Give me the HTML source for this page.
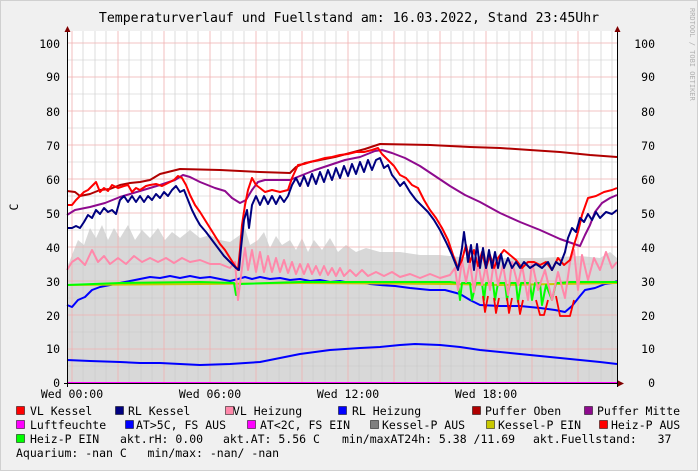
<!DOCTYPE html>
<html><head><meta charset="utf-8"><style>
body{margin:0;background:#f0f0f0;}
svg{display:block;font-family:"DejaVu Sans Mono","Liberation Mono",monospace;}
</style></head><body>
<svg width="698" height="471" viewBox="0 0 698 471" xmlns="http://www.w3.org/2000/svg">
<rect x="0" y="0" width="698" height="471" fill="#f0f0f0"/>
<rect x="0.5" y="0.5" width="697" height="470" fill="none" stroke="#d0d0d0"/>
<text x="349" y="22" font-size="13.2" text-anchor="middle" fill="#000">Temperaturverlauf und Fuellstand am: 16.03.2022, Stand 23:45Uhr</text>
<text transform="translate(690,8) rotate(90)" font-size="7" fill="#b0b0b0">RRDTOOL / TOBI OETIKER</text>
<text transform="translate(18,207) rotate(-90)" font-size="11.5" text-anchor="middle">C</text>
<rect x="67" y="31" width="550" height="352" fill="#fff"/>
<!-- grey area -->
<polygon fill="#d8d8d8" points="67,383 67,268 72,255 78,240 84,245 90,228 96,238 102,225 108,240 114,228 120,238 128,225 135,240 142,230 150,238 158,228 165,240 172,232 180,238 190,230 200,238 210,235 220,240 230,242 240,235 245,228 250,245 258,240 264,232 270,248 276,236 282,245 290,240 296,250 302,238 308,252 314,240 322,250 330,238 338,252 346,245 356,252 366,248 380,252 400,252 420,255 440,255 460,257 500,258 540,258 580,256 600,258 610,252 617,258 617,383"/>
<!-- grid minor -->
<g stroke="#c8c8c8" stroke-width="0.6">
<path d="M67,366H617M67,332H617M67,298H617M67,264H617M67,230H617M67,196H617M67,162H617M67,128H617M67,94H617M67,60H617"/>
<path d="M83,31V383M95,31V383M106,31V383M129,31V383M141,31V383M152,31V383M175,31V383M187,31V383M198,31V383M221,31V383M233,31V383M244,31V383M267,31V383M279,31V383M290,31V383M313,31V383M325,31V383M336,31V383M359,31V383M371,31V383M382,31V383M405,31V383M417,31V383M428,31V383M451,31V383M463,31V383M474,31V383M497,31V383M509,31V383M520,31V383M543,31V383M555,31V383M566,31V383M589,31V383M601,31V383M612,31V383"/>
</g>
<g stroke="#f0b0b0" stroke-width="0.8">
<path d="M67,349H617M67,315H617M67,281H617M67,247H617M67,213H617M67,179H617M67,145H617M67,111H617M67,77H617M67,43H617"/>
<path d="M72,31V383M118,31V383M164,31V383M210,31V383M256,31V383M302,31V383M348,31V383M394,31V383M440,31V383M486,31V383M532,31V383M578,31V383"/>
</g>
<g fill="none" stroke-linejoin="round" stroke-width="2">
<!-- AT low blue -->
<polyline stroke="#0000ff" points="67,360 90,361 120,362 140,363 160,363 180,364 200,365 230,364 260,362 280,358 300,354 330,350 360,348 380,347 400,345 415,344 440,345 460,347 480,350 510,353 540,356 570,359 600,362 617,364"/>
<!-- RL Heizung -->
<polyline stroke="#0000ff" points="67,305 72,307 78,300 85,297 92,290 100,287 110,285 120,283 130,281 140,279 150,277 160,278 170,276 180,278 190,276 200,278 210,277 220,279 230,281 238,279 245,277 252,279 260,277 270,279 280,278 290,280 300,279 310,281 320,280 330,282 340,281 350,283 360,282 370,284 380,285 395,286 410,288 430,290 445,290 460,294 470,300 480,305 500,306 520,306 540,308 555,310 565,312 572,306 580,296 585,290 595,288 605,284 612,283 617,281"/>
<!-- Yellow Kessel-P EIN -->
<polyline stroke="#c8c800" points="67,285 200,284 300,283 450,284 500,285 617,283"/>
<!-- Green Heiz-P EIN -->
<polyline stroke="#00ff00" points="67,285 120,283 200,282 234,283 236,295 238,295 240,284 300,282 420,282 450,282 458,283 460,300 462,283 470,283 472,300 476,283 482,283 484,300 486,283 493,283 495,300 498,283 505,283 507,300 510,283 516,283 518,302 521,283 530,283 532,300 535,283 540,283 542,305 546,285 552,300 556,283 560,283 570,282 617,282"/>
<!-- Red heiz-p dips -->
<polyline stroke="#ff0000" stroke-width="1.8" points="483,296 485,312 488,296 M0,0"/>
<polyline stroke="#ff0000" stroke-width="1.8" points="494,298 496,313 499,298"/>
<polyline stroke="#ff0000" stroke-width="1.8" points="507,298 509,313 512,298"/>
<polyline stroke="#ff0000" stroke-width="1.8" points="518,300 520,314 523,300"/>
<polyline stroke="#ff0000" stroke-width="1.8" points="536,300 540,315 544,315 548,300"/>
<polyline stroke="#ff0000" stroke-width="1.8" points="556,296 560,316 570,316 574,300"/>
<!-- VL Heizung pink -->
<polyline stroke="#ff88aa" points="67,270 72,262 78,258 85,265 92,250 98,262 104,256 110,264 118,258 126,264 134,256 142,262 150,258 158,262 166,258 174,263 182,258 190,262 200,260 210,264 220,264 230,268 235,262 238,300 242,268 245,248 248,270 252,250 256,272 260,252 264,272 268,256 272,272 276,258 280,272 284,260 288,273 292,262 296,274 300,264 304,274 308,264 312,274 316,266 320,275 324,266 328,275 332,268 336,276 340,268 344,276 350,270 356,276 362,270 368,276 376,272 384,276 392,272 400,277 410,274 420,278 430,274 440,278 450,275 455,268 458,290 462,260 466,282 470,262 474,292 478,262 482,285 486,265 490,290 494,260 498,285 503,265 508,295 512,262 518,285 522,265 528,300 532,262 538,290 545,270 552,300 558,272 565,298 570,262 574,250 578,290 582,255 588,280 594,258 600,270 606,252 612,268 617,262"/>
<!-- Puffer Oben -->
<polyline stroke="#b00000" points="67,191 75,192 80,196 90,194 100,190 110,189 120,185 130,183 140,182 150,180 155,177 160,174 180,169 220,170 260,172 290,173 296,167 305,163 320,160 335,157 350,153 365,149 380,144 430,145 470,147 500,148 530,150 560,152 590,155 617,157"/>
<!-- Puffer Mitte -->
<polyline stroke="#8e0a8e" points="67,215 75,210 90,207 105,203 120,197 140,191 160,185 175,180 183,175 190,177 200,182 215,188 225,191 232,198 240,203 246,200 252,190 258,182 265,180 290,180 300,176 315,170 330,165 345,160 360,157 375,151 382,150 392,153 405,158 420,166 435,176 450,186 465,195 480,202 500,213 520,222 540,230 560,239 580,246 585,235 590,225 595,212 602,203 610,198 617,195"/>
<!-- VL Kessel -->
<polyline stroke="#ff0000" points="67,205 72,205 76,200 80,196 84,192 88,190 92,186 96,182 100,192 104,188 108,191 112,185 118,188 124,186 128,185 132,192 136,188 140,190 146,186 150,185 156,184 162,186 168,183 174,180 178,176 182,178 186,185 190,195 195,205 200,212 205,220 210,228 215,236 220,244 225,250 230,258 235,266 238,270 240,250 242,225 245,205 248,190 252,178 256,185 260,188 265,192 272,190 280,192 288,190 292,178 298,165 304,164 310,162 318,160 325,158 332,157 340,155 348,154 356,152 364,152 372,150 378,148 382,154 388,160 394,166 400,175 406,178 412,185 418,188 424,200 430,210 436,218 442,228 448,240 453,255 458,268 462,260 466,245 470,262 474,250 478,266 482,252 486,268 490,255 494,268 498,258 504,250 510,255 516,260 522,268 528,262 534,262 540,265 546,262 552,270 558,258 564,265 570,260 574,245 578,232 582,215 588,198 596,196 604,192 612,190 617,188"/>
<!-- RL Kessel -->
<polyline stroke="#000080" points="67,228 72,228 76,226 80,228 84,222 88,215 92,218 96,210 100,214 104,208 108,212 112,210 116,214 120,200 124,196 128,202 132,196 136,202 140,196 144,202 148,196 152,200 156,194 160,198 164,192 168,196 172,190 176,186 180,192 184,190 188,200 192,210 196,218 200,225 206,232 212,240 218,248 224,256 230,262 236,268 239,270 241,248 244,220 247,210 249,228 252,205 256,196 260,205 264,196 268,204 272,196 276,204 280,196 284,202 288,196 292,185 296,178 300,186 304,176 308,186 312,174 316,184 320,172 324,182 328,170 332,180 336,168 340,178 344,166 348,176 352,164 356,174 360,162 364,172 368,160 372,170 376,160 380,158 384,168 388,165 392,175 396,180 400,186 404,182 410,192 416,200 422,206 428,212 434,220 440,230 446,242 452,255 458,270 462,248 464,232 468,262 471,245 474,270 477,244 480,268 483,248 486,268 489,250 492,268 495,252 498,268 501,254 504,268 508,258 512,268 516,262 520,268 524,262 530,268 536,264 542,268 548,262 552,270 556,262 560,265 565,252 568,238 572,228 576,232 580,218 584,222 588,214 592,220 596,212 600,218 606,212 612,214 617,210"/>
<!-- Luftfeuchte line -->
<polyline stroke="#ff00ff" points="67,383 617,383"/>
</g>
<!-- axes -->
<g stroke="#000" stroke-width="1" fill="none">
<path d="M67.5,30V387M64,383.5H622M617.5,30V387"/>
</g>
<polygon points="67.5,26 64.5,32 70.5,32" fill="#800000"/>
<polygon points="617.5,26 614.5,32 620.5,32" fill="#800000"/>
<polygon points="624,383.5 618,380.5 618,386.5" fill="#800000"/>
<g font-size="11.5" fill="#000">
<g text-anchor="end">
<text x="60" y="48">100</text><text x="60" y="81">90</text><text x="60" y="116">80</text><text x="60" y="150">70</text><text x="60" y="184">60</text><text x="60" y="218">50</text><text x="60" y="252">40</text><text x="60" y="286">30</text><text x="60" y="320">20</text><text x="60" y="353">10</text><text x="60" y="387">0</text>
</g>
<g text-anchor="end">
<text x="655" y="48">100</text><text x="655" y="81">90</text><text x="655" y="116">80</text><text x="655" y="150">70</text><text x="655" y="184">60</text><text x="655" y="218">50</text><text x="655" y="252">40</text><text x="655" y="286">30</text><text x="655" y="320">20</text><text x="655" y="353">10</text><text x="655" y="387">0</text>
</g>
<g text-anchor="middle">
<text x="72" y="398">Wed 00:00</text><text x="210" y="398">Wed 06:00</text><text x="348" y="398">Wed 12:00</text><text x="486" y="398">Wed 18:00</text>
</g>
<g stroke="#000" stroke-width="0.5">
<rect x="16.5" y="406.5" width="8" height="8" fill="#ff0000"/>
<rect x="115.5" y="406.5" width="8" height="8" fill="#000080"/>
<rect x="225.5" y="406.5" width="8" height="8" fill="#ff88aa"/>
<rect x="338.5" y="406.5" width="8" height="8" fill="#0000ff"/>
<rect x="472.5" y="406.5" width="8" height="8" fill="#b00000"/>
<rect x="584.5" y="406.5" width="8" height="8" fill="#8e0a8e"/>
<rect x="16.5" y="420.5" width="8" height="8" fill="#ff00ff"/>
<rect x="125.5" y="420.5" width="8" height="8" fill="#0000ff"/>
<rect x="247.5" y="420.5" width="8" height="8" fill="#ff00ff"/>
<rect x="370.5" y="420.5" width="8" height="8" fill="#808080"/>
<rect x="486.5" y="420.5" width="8" height="8" fill="#c8c800"/>
<rect x="599.5" y="420.5" width="8" height="8" fill="#ff0000"/>
<rect x="16.5" y="434.5" width="8" height="8" fill="#00ff00"/>
</g>
<text x="30" y="415">VL Kessel</text>
<text x="128" y="415">RL Kessel</text>
<text x="233" y="415">VL Heizung</text>
<text x="352" y="415">RL Heizung</text>
<text x="485" y="415">Puffer Oben</text>
<text x="597" y="415">Puffer Mitte</text>
<text x="30" y="429">Luftfeuchte</text>
<text x="136" y="429">AT&gt;5C, FS AUS</text>
<text x="260" y="429">AT&lt;2C, FS EIN</text>
<text x="382" y="429">Kessel-P AUS</text>
<text x="498" y="429">Kessel-P EIN</text>
<text x="611" y="429">Heiz-P AUS</text>
<text x="30" y="443">Heiz-P EIN</text>
<text x="120" y="443">akt.rH: 0.00</text>
<text x="223" y="443">akt.AT: 5.56 C</text>
<text x="342" y="443">min/maxAT24h: 5.38 /11.69</text>
<text x="533" y="443" xml:space="preserve">akt.Fuellstand:   37</text>
<text x="16" y="457" xml:space="preserve">Aquarium: -nan C   min/max: -nan/ -nan</text>
</g>
</svg>
</body></html>
